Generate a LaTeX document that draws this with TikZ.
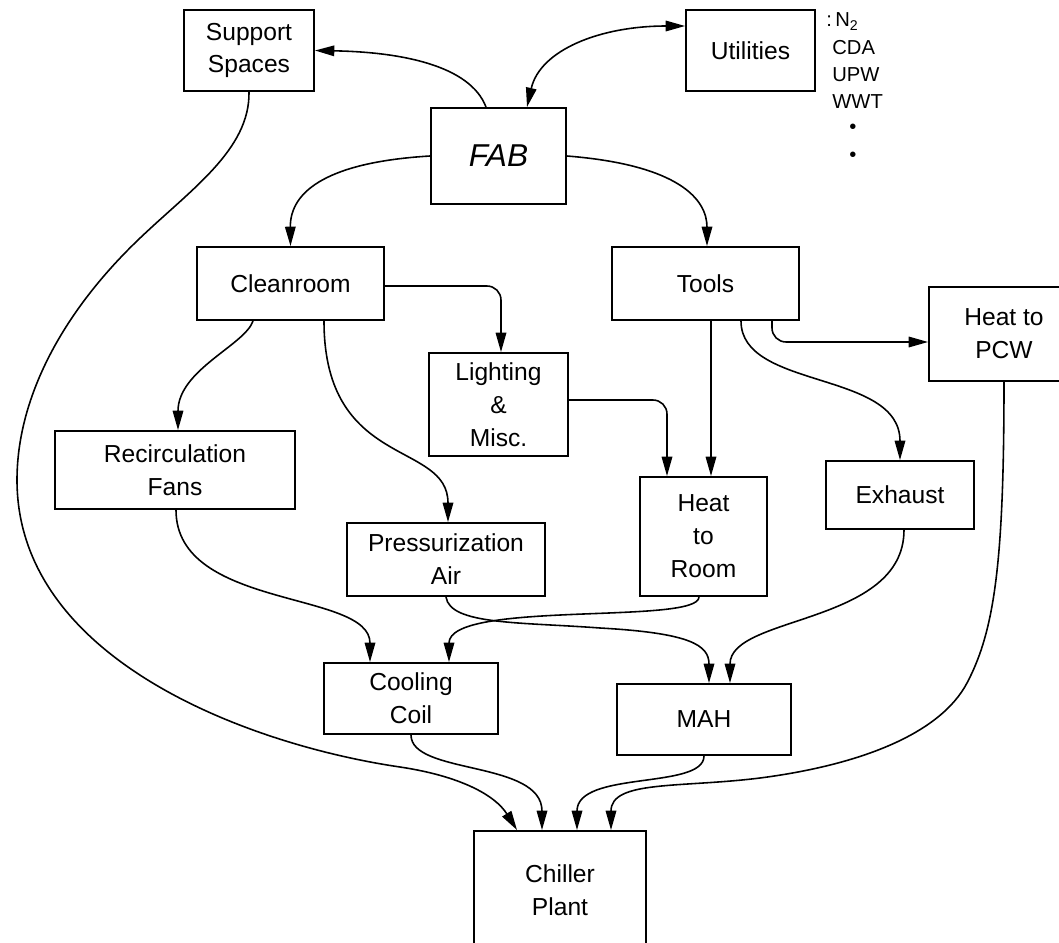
\documentclass[tikz,border=0pt]{standalone}
\usepackage{fontspec}
\setmainfont{Liberation Sans}
\usetikzlibrary{arrows.meta,calc}
\begin{document}
\begin{tikzpicture}[x=0.02cm,y=-0.02cm,
  >={Triangle[length=11pt,width=6pt]},
  box/.style={draw,line width=1.1pt,inner sep=0pt,align=center,font=\fontsize{14}{18.7}\selectfont},
  sz/.style 2 args={minimum width=#1*0.02cm,minimum height=#2*0.02cm},
  conn/.style={line width=0.9pt},
  lst/.style={font=\fontsize{11.5}{13}\selectfont,inner sep=0pt,anchor=base west},
  dotlbl/.style={font=\fontsize{11.5}{13}\selectfont,inner sep=0pt}]
\useasboundingbox (0,0) rectangle (1059,943);
\clip (0,0) rectangle (1059,943);

% boxes
\node[box,sz={130}{81}] (sup) at (249,50.5) {Support\\Spaces};
\node[box,sz={129}{81}] (util) at (750.5,50.5) {Utilities};
\node[box,sz={135}{96},font=\fontsize{18}{22}\selectfont\itshape] (fab) at (498.5,156) {FAB};
\node[box,sz={187}{73}] (clean) at (290.5,283.5) {Cleanroom};
\node[box,sz={187}{73}] (tools) at (705.5,283.5) {Tools};
\node[box,sz={139}{103}] (light) at (498.5,404.5) {Lighting\\\&\\Misc.};
\node[box,sz={150}{94}] (pcw) at (1004,334) {Heat to\\PCW};
\node[box,sz={240}{78}] (recirc) at (175,470) {Recirculation\\Fans};
\node[box,sz={198}{73}] (press) at (446,559.5) {Pressurization\\Air};
\node[box,sz={127}{119}] (htr) at (703.5,536.5) {Heat\\to\\Room};
\node[box,sz={148}{68}] (exh) at (900,495) {Exhaust};
\node[box,sz={174}{71}] (coil) at (411,698.5) {Cooling\\Coil};
\node[box,sz={174}{71}] (mah) at (704,719.5) {MAH};
\node[box,sz={172}{118}] (chill) at (560,890) {Chiller\\Plant};

% utilities list
\node[lst] (l1) at (826,27) {:\,N\textsubscript{2}};
\node[lst] (l2) at (832,54) {CDA};
\node[lst] (l3) at (832,81) {UPW};
\node[lst] (l4) at (832,108) {WWT};
\node[dotlbl] (d1) at (853,129) {\textbullet};
\node[dotlbl] (d2) at (853,157) {\textbullet};

% connectors
\draw[conn,->] ($(fab.north)+(-12.5,0)$) .. controls (470,65) and (400,52) .. (sup.east);
\draw[conn,<->] ($(fab.north)+(28.5,0)$) .. controls (540,50) and (600,26) .. ($(util.west)+(0,-24.5)$);
\draw[conn,->] (fab.west) .. controls (330,162) and (290,190) .. (clean.north);
\draw[conn,->] (fab.east) .. controls (680,165) and (707,200) .. ($(tools.north)+(1.5,0)$);
\draw[conn,->,rounded corners=8pt] ($(clean.east)+(0,2.5)$) -| ($(light.north)+(2.5,0)$);
\draw[conn,->] ($(clean.south)+(-37.5,0)$) .. controls (245,345) and (178,370) .. ($(recirc.north)+(3,0)$);
\draw[conn,->] ($(clean.south)+(33.5,0)$) .. controls (324,470) and (448,440) .. ($(press.north)+(2,0)$);
\draw[conn,->,rounded corners=8pt] ($(light.east)+(0,-4.5)$) -| ($(htr.north)+(-36.5,0)$);
\coordinate (t1) at ($(tools.south)+(5.5,0)$);
\draw[conn,->] (t1) -- (t1 |- htr.north);
\draw[conn,->,rounded corners=8pt] ($(tools.south)+(66.5,0)$) |- ($(pcw.west)+(0,8)$);
\draw[conn,->] ($(tools.south)+(35.5,0)$) .. controls (741,390) and (900,370) .. (exh.north);
\draw[conn,->] ($(recirc.south)+(1,0)$) .. controls (176,610) and (370,590) .. ($(coil.north)+(-41,0)$);
\draw[conn,->] ($(htr.south)+(-4.5,0)$) .. controls (699,625) and (449,600) .. ($(coil.north)+(38,0)$);
\draw[conn,->] (press.south) .. controls (450,625) and (520,622) .. (600,628) .. controls (690,633) and (709,645) .. ($(mah.north)+(5,0)$);
\draw[conn,->] ($(exh.south)+(4,0)$) .. controls (904,625) and (730,615) .. ($(mah.north)+(26,0)$);
\draw[conn,->] (pcw.south) .. controls (1004,560) and (995,630) .. (967,683) .. controls (940,734) and (860,765) .. (760,778) .. controls (680,788) and (611,780) .. ($(chill.north)+(51,0)$);
\draw[conn,->] (coil.south) .. controls (411,775) and (542,760) .. ($(chill.north)+(-18,0)$);
\draw[conn,->] (mah.south) .. controls (704,790) and (577,770) .. ($(chill.north)+(17,0)$);
\draw[conn,->] (sup.south) .. controls (250,150) and (190,190) .. (138,240) .. controls (60,315) and (17,400) .. (17,480) .. controls (17,660) and (250,745) .. (400,767) .. controls (460,776) and (495,795) .. ($(chill.north)+(-43,0)$);
\end{tikzpicture}
\end{document}
